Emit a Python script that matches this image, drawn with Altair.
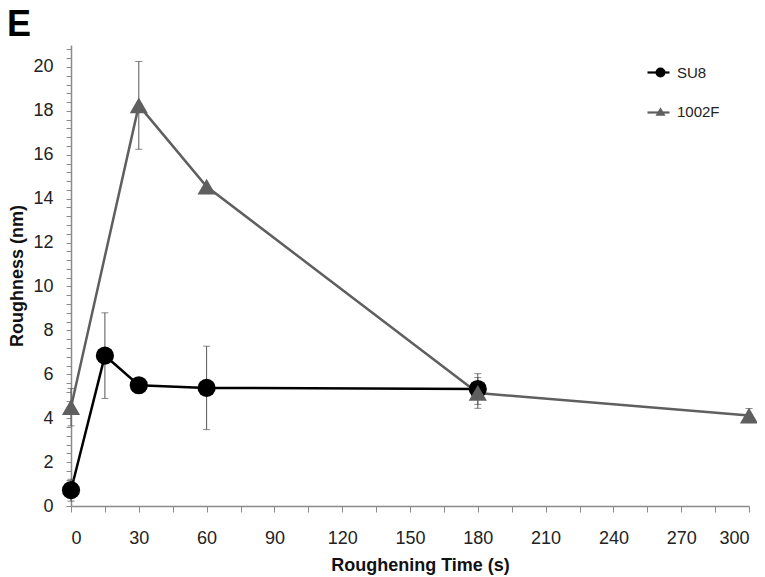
import altair as alt
import pandas as pd

# ---- data ----
series_names = ["SU8", "1002F"]

su8_time = [0, 15, 30, 60, 180]
su8_rough = [0.72, 6.85, 5.5, 5.38, 5.33]
su8_err = [0.5, 1.95, 0.0, 1.9, 0.7]

f1002_time = [0, 30, 60, 180, 300]
f1002_rough = [4.5, 18.25, 14.55, 5.15, 4.12]
f1002_err = [0.85, 2.0, 0.0, 0.7, 0.32]

x_tick_values = list(range(0, 301, 15))
y_tick_values = [round(i * 0.4, 1) for i in range(0, 53)]

rows = []
for t, r, e in zip(su8_time, su8_rough, su8_err):
    rows.append({"series": "SU8", "time": t, "rough": r, "lo": r - e, "hi": r + e, "err": e})
for t, r, e in zip(f1002_time, f1002_rough, f1002_err):
    rows.append({"series": "1002F", "time": t, "rough": r, "lo": r - e, "hi": r + e, "err": e})
df = pd.DataFrame(rows)

FONT = "Liberation Sans"
COLORS = ["#000000", "#5f5f5f"]
AXIS_COLOR = "#8a8a8a"

x_scale = alt.Scale(domain=[0, 300], nice=False, zero=True)
y_scale = alt.Scale(domain=[0, 21], nice=False)

x_axis = alt.Axis(
    values=x_tick_values,
    tickCount=len(x_tick_values),
    labelExpr="datum.value % 30 == 0 ? datum.label : ''",
    title="Roughening Time (s)",
    grid=False,
    tickSize=6,
    labelPadding=17,
    labelOverlap=False,
    titleX=349,
    titleY=64,
    titleBaseline="alphabetic",
)
y_axis = alt.Axis(
    values=y_tick_values,
    tickCount=len(y_tick_values),
    labelExpr="(abs(datum.value % 2) < 0.01 || abs(datum.value % 2) > 1.99) ? format(datum.value, 'd') : ''",
    title="Roughness (nm)",
    grid=False,
    tickSize=5,
    labelPadding=13,
    labelOverlap=False,
    titleX=-54,
    titleBaseline="middle",
)

LEG_X = 575
LEG_Y = 20

# legend of the lines: short stroke symbols (its labels are kept invisible)
line_legend = alt.Legend(
    title=None,
    orient="none",
    legendX=LEG_X,
    legendY=LEG_Y - 5,
    symbolType="stroke",
    symbolSize=484,
    symbolStrokeWidth=2.2,
    labelExpr="replace(datum.label, '_l', '')",
    labelFont=FONT,
    labelFontSize=15,
    labelOpacity=0,
    labelOffset=4,
    rowPadding=19,
    padding=0,
)

base = alt.Chart(df).transform_calculate(series_l="datum.series + '_l'")

lines = base.mark_line(strokeWidth=2.5).encode(
    x=alt.X("time:Q", scale=x_scale, axis=x_axis),
    y=alt.Y("rough:Q", scale=y_scale, axis=y_axis),
    color=alt.Color(
        "series_l:N",
        scale=alt.Scale(domain=[s + "_l" for s in series_names], range=COLORS),
        legend=line_legend,
    ),
    detail="series:N",
)

err_df = base.transform_filter("datum.err > 0")
err_rules = err_df.mark_rule(color="#555555", strokeWidth=1).encode(
    x="time:Q", y="lo:Q", y2="hi:Q"
)
err_cap_hi = err_df.mark_tick(color="#555555", thickness=1, size=7, orient="horizontal").encode(
    x="time:Q", y="hi:Q"
)
err_cap_lo = err_df.mark_tick(color="#555555", thickness=1, size=7, orient="horizontal").encode(
    x="time:Q", y="lo:Q"
)

sym_expr = "(datum.series || datum.value) === 'SU8' ? '%s' : '%s'" % (COLORS[0], COLORS[1])

# legend of the markers, laid over the line legend (small markers centred on the lines)
marker_legend = alt.Legend(
    title=None,
    orient="none",
    legendX=LEG_X + 7,
    legendY=LEG_Y,
    symbolSize=100,
    symbolOpacity=1,
    symbolStrokeWidth=0,
    labelFont=FONT,
    labelFontSize=15,
    labelColor="#222222",
    labelOffset=9,
    rowPadding=23,
    padding=0,
)

points = base.mark_point(
    filled=True,
    opacity=1,
    size=330,
    fill=alt.ExprRef(expr=sym_expr),
).encode(
    x="time:Q",
    y="rough:Q",
    shape=alt.Shape(
        "series:N",
        scale=alt.Scale(domain=series_names, range=["circle", "triangle-up"]),
        legend=marker_legend,
    ),
)

chart = (
    alt.layer(lines, err_rules, err_cap_hi, err_cap_lo, points)
    .properties(
        width=678,
        height=461,
        padding={"left": 63, "top": 37, "right": 8, "bottom": 71},
        autosize=alt.AutoSizeParams(type="none"),
        title=alt.TitleParams(
            text="E",
            anchor="start",
            frame="group",
            orient="top",
            fontSize=36,
            fontWeight="bold",
            font=FONT,
            color="#000000",
            dx=-64,
            offset=-4,
        ),
    )
    .configure_view(stroke=None)
    .configure_axis(
        domainColor=AXIS_COLOR,
        tickColor=AXIS_COLOR,
        domainWidth=1.5,
        tickWidth=1,
        labelFont=FONT,
        labelFontSize=18,
        labelColor="#222222",
        titleFont=FONT,
        titleFontSize=18,
        titleFontWeight="bold",
        titleColor="#111111",
    )
)

chart.save("out.html", embed_options={"renderer": "svg", "actions": False})
